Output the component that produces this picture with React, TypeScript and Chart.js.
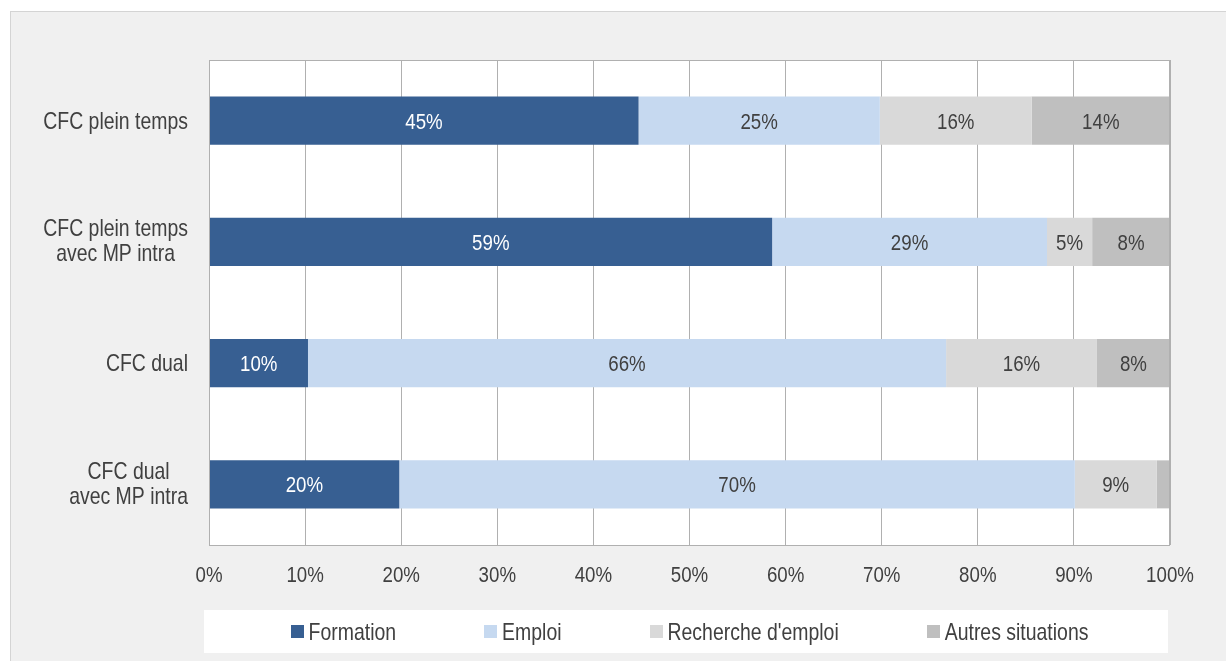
import React, { useEffect, useRef } from "react";
import { Chart, registerables } from "chart.js";

Chart.register(...registerables);

const categories: string[][] = [
  ["CFC plein temps"],
  ["CFC plein temps", "avec MP intra"],
  ["CFC dual"],
  ["CFC dual", "avec MP intra"],
];
const seriesNames = ["Formation", "Emploi", "Recherche d'emploi", "Autres situations"];
const formation = [44.7, 58.6, 10.3, 19.8];
const emploi = [25.1, 28.6, 66.4, 70.3];
const recherche = [15.8, 4.7, 15.7, 8.5];
const autres = [14.4, 8.1, 7.6, 1.4];
const xTicks = [0, 10, 20, 30, 40, 50, 60, 70, 80, 90, 100];

const colors = ["#375F92", "#C6D9F0", "#D9D9D9", "#BFBFBF"];
const labelColors = ["#FFFFFF", "#404040", "#404040", "#404040"];
const FONT = "'Liberation Sans', Arial, sans-serif";
const SMALL = { size: 22, sx: 0.85 };
const BIG = { size: 24, sx: 0.81 };
const TEXT = "#404040";
const GRID = "#B0B0B0";

function drawText(ctx: any, text: string, x: number, y: number, f: { size: number; sx: number }, align: string) {
  ctx.save();
  ctx.font = `${f.size}px ${FONT}`;
  ctx.textBaseline = "alphabetic";
  ctx.textAlign = align;
  ctx.translate(x, y);
  ctx.scale(f.sx, 1);
  ctx.fillText(text, 0, 0);
  ctx.restore();
}

function textWidth(ctx: any, text: string, f: { size: number; sx: number }) {
  ctx.save();
  ctx.font = `${f.size}px ${FONT}`;
  const w = ctx.measureText(text).width * f.sx;
  ctx.restore();
  return w;
}

const customPlugin = {
  id: "custom",
  beforeDraw(chart: any) {
    const { ctx, chartArea } = chart;
    ctx.save();
    ctx.fillStyle = "#FFFFFF";
    ctx.fillRect(chartArea.left, chartArea.top, chartArea.right - chartArea.left, chartArea.bottom - chartArea.top);
    // legend box
    ctx.fillRect(chartArea.left - 5, chartArea.bottom + 65, chartArea.right - chartArea.left + 3, 43);
    ctx.restore();
  },
  afterDatasetsDraw(chart: any) {
    const { ctx, chartArea } = chart;
    ctx.save();
    // plot border
    ctx.strokeStyle = GRID;
    ctx.lineWidth = 1;
    ctx.strokeRect(chartArea.left + 0.5, chartArea.top + 0.5, chartArea.right - chartArea.left - 1, chartArea.bottom - chartArea.top);
    // data labels
    chart.data.datasets.forEach((ds: any, di: number) => {
      const meta = chart.getDatasetMeta(di);
      meta.data.forEach((bar: any, i: number) => {
        const v = ds.data[i];
        if (v < 3) return;
        const p = bar.getProps(["x", "y", "base"], true);
        ctx.fillStyle = labelColors[di];
        drawText(ctx, Math.round(v) + "%", (p.x + p.base) / 2, p.y + 8, SMALL, "center");
      });
    });
    // x tick labels
    const xScale = chart.scales.x;
    ctx.fillStyle = TEXT;
    xTicks.forEach((v) => {
      drawText(ctx, v + "%", xScale.getPixelForValue(v), chartArea.bottom + 37, SMALL, "center");
    });
    // category labels
    const yScale = chart.scales.y;
    categories.forEach((lines, i) => {
      const y = yScale.getPixelForTick(i);
      const w = Math.max(...lines.map((l) => textWidth(ctx, l, BIG)));
      const cx = chartArea.left - 21 - w / 2;
      lines.forEach((l, j) => {
        const by = y + (j - (lines.length - 1) / 2) * 25 + 8.3 - (lines.length > 1 ? 1.5 : 0);
        drawText(ctx, l, cx, by, BIG, "center");
      });
    });
    // legend
    const gap = 88;
    const box = 13;
    const items = seriesNames.map((n) => ({ n, w: box + 5 + textWidth(ctx, n, BIG) }));
    const total = items.reduce((s, it) => s + it.w, 0) + gap * (items.length - 1);
    let x = (chartArea.left + chartArea.right) / 2 - total / 2;
    const ly = chartArea.bottom + 86;
    items.forEach((it, k) => {
      ctx.fillStyle = colors[k];
      ctx.fillRect(Math.round(x), ly - 6, box, box);
      ctx.fillStyle = TEXT;
      drawText(ctx, it.n, x + box + 5, ly + 8.5, BIG, "left");
      x += it.w + gap;
    });
    ctx.restore();
  },
};

export default function App() {
  const ref = useRef<HTMLCanvasElement>(null);
  useEffect(() => {
    if (!ref.current) return;
    const data = [formation, emploi, recherche, autres];
    const chart = new Chart(ref.current, {
      type: "bar",
      data: {
        labels: categories.map((c) => c.join(" ")),
        datasets: data.map((d, i) => ({
          label: seriesNames[i],
          data: d,
          backgroundColor: colors[i],
          borderWidth: 0,
          categoryPercentage: 0.8,
          barPercentage: 0.495,
        })),
      },
      options: {
        indexAxis: "y",
        responsive: false,
        maintainAspectRatio: false,
        animation: false,
        layout: { padding: { top: 60, right: 56, left: 0, bottom: 0 } },
        plugins: { legend: { display: false }, tooltip: { enabled: false } },
        scales: {
          x: {
            stacked: true,
            min: 0,
            max: 100,
            afterFit: (s: any) => {
              s.height = 116;
            },
            afterBuildTicks: (s: any) => {
              s.ticks = xTicks.map((v) => ({ value: v }));
            },
            grid: { color: GRID, drawTicks: false },
            border: { display: false },
            ticks: { display: false },
          },
          y: {
            stacked: true,
            afterFit: (s: any) => {
              s.width = 209;
            },
            grid: { display: false },
            border: { display: false },
            ticks: { display: false },
          },
        },
      },
      plugins: [customPlugin],
    });
    return () => chart.destroy();
  }, []);

  return (
    <div style={{ position: "absolute", left: 0, top: 0, width: 1226, height: 661, background: "#FFFFFF", overflow: "hidden" }}>
      <div
        style={{
          position: "absolute",
          left: 10,
          top: 11,
          width: 1240,
          height: 700,
          background: "#F0F0F0",
          border: "1px solid #D4D4D4",
        }}
      />
      <canvas ref={ref} width={1226} height={661} style={{ position: "absolute", left: 0, top: 0 }} />
    </div>
  );
}
